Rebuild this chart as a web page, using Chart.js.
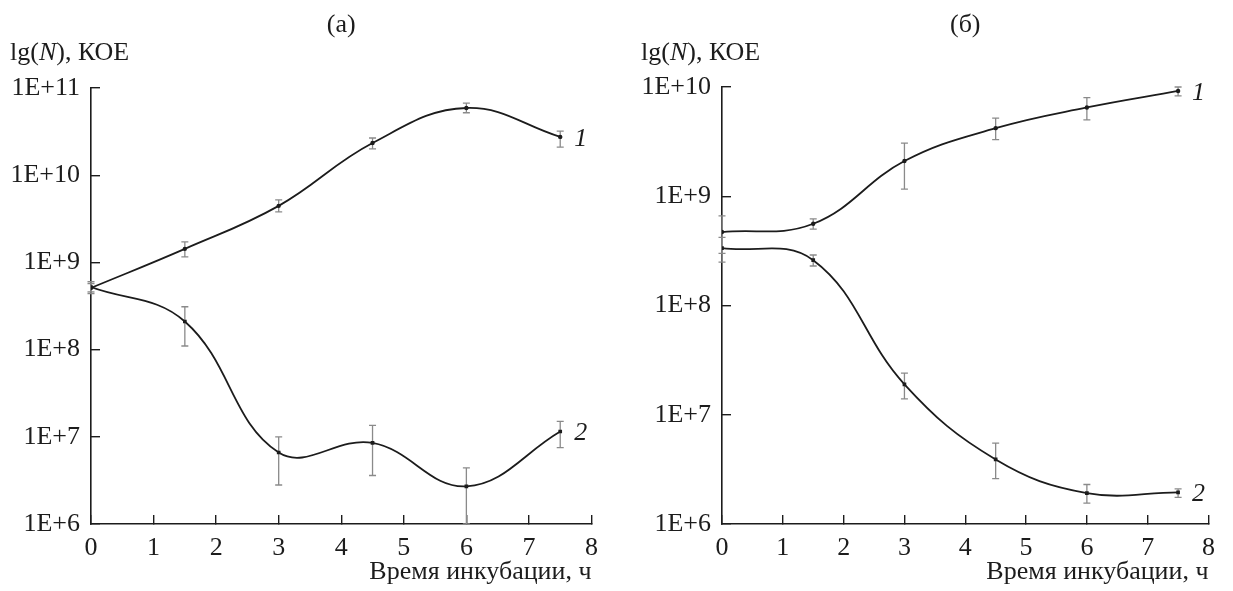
<!DOCTYPE html>
<html>
<head>
<meta charset="utf-8">
<script src="https://cdn.jsdelivr.net/npm/chart.js@4.4.0/dist/chart.umd.min.js"></script>
<style>
  body { margin: 0; background: #fff; }
  canvas { position: absolute; top: 0; }
</style>
</head>
<body>
<canvas id="chartA" width="616" height="591" style="left:0"></canvas>
<canvas id="chartB" width="617" height="591" style="left:616px"></canvas>
<script>
// time points, h
const times = [0, 1.5, 3, 4.5, 6, 7.5];
const xTicks = [0, 1, 2, 3, 4, 5, 6, 7, 8];
const yTicksA = [1e6, 1e7, 1e8, 1e9, 1e10, 1e11];
const yTicksB = [1e6, 1e7, 1e8, 1e9, 1e10];
const seriesNames = ['1', '2'];

// panel (a)
const a1 = [5.1e8, 1.43e9, 4.45e9, 2.34e10, 5.9e10, 2.75e10];
const a1Low = [4.6e8, 1.16e9, 3.8e9, 2.0e10, 5.2e10, 2.1e10];
const a1High = [5.7e8, 1.72e9, 5.2e9, 2.67e10, 6.7e10, 3.2e10];
const a2 = [5.2e8, 2.1e8, 6.6e6, 8.5e6, 2.7e6, 1.15e7];
const a2Low = [4.4e8, 1.1e8, 2.8e6, 3.6e6, 1.0e6, 7.5e6];
const a2High = [6.0e8, 3.1e8, 1.0e7, 1.35e7, 4.4e6, 1.5e7];

// panel (б)
const b1 = [4.7e8, 5.6e8, 2.1e9, 4.2e9, 6.5e9, 9.2e9];
const b1Low = [3.0e8, 5.0e8, 1.16e9, 3.3e9, 5.0e9, 8.3e9];
const b1High = [6.6e8, 6.2e8, 3.07e9, 5.2e9, 8.0e9, 1.0e10];
const b2 = [3.35e8, 2.6e8, 1.9e7, 3.9e6, 1.92e6, 1.95e6];
const b2Low = [2.5e8, 2.3e8, 1.4e7, 2.6e6, 1.55e6, 1.75e6];
const b2High = [4.2e8, 2.9e8, 2.4e7, 5.5e6, 2.3e6, 2.1e6];

const FONT = 'Liberation Serif';
const INK = '#1c1c1c';

// vertical error bars, drawn under the lines
const errorBars = {
  id: 'errorBars',
  beforeDatasetsDraw(chart) {
    const ctx = chart.ctx, xs = chart.scales.x, ys = chart.scales.y;
    ctx.save();
    ctx.strokeStyle = '#8a8a8a';
    ctx.lineWidth = 1.3;
    chart.data.datasets.forEach(ds => {
      ds.data.forEach((p, i) => {
        const px = xs.getPixelForValue(p.x);
        const lo = ys.getPixelForValue(ds.errLow[i]);
        const hi = ys.getPixelForValue(ds.errHigh[i]);
        ctx.beginPath();
        ctx.moveTo(px, lo); ctx.lineTo(px, hi);
        ctx.moveTo(px - 3.5, lo); ctx.lineTo(px + 3.5, lo);
        ctx.moveTo(px - 3.5, hi); ctx.lineTo(px + 3.5, hi);
        ctx.stroke();
      });
    });
    ctx.restore();
  }
};

// panel letter, y unit caption and curve numbers
const captions = {
  id: 'captions',
  afterDraw(chart, args, opts) {
    const ctx = chart.ctx, area = chart.chartArea;
    const xs = chart.scales.x, ys = chart.scales.y;
    ctx.save();
    ctx.fillStyle = INK;
    ctx.textBaseline = 'middle';

    ctx.font = `26px "${FONT}"`;
    ctx.textAlign = 'center';
    ctx.fillText(opts.panel, (area.left + area.right) / 2, 25);

    // lg(N), КОЕ with italic N
    ctx.textAlign = 'left';
    let x = area.left - 81;
    const parts = [['lg(', false], ['N', true], ['), КОЕ', false]];
    parts.forEach(([t, it]) => {
      ctx.font = `${it ? 'italic ' : ''}26px "${FONT}"`;
      ctx.fillText(t, x, 53);
      x += ctx.measureText(t).width;
    });

    ctx.font = `italic 26px "${FONT}"`;
    chart.data.datasets.forEach((ds, i) => {
      const last = ds.data[ds.data.length - 1];
      ctx.fillText(seriesNames[i], xs.getPixelForValue(last.x) + 14, ys.getPixelForValue(last.y) + 2);
    });
    ctx.restore();
  }
};

function points(values) {
  return times.map((t, i) => ({ x: t, y: values[i] }));
}

function makePanel(id, panel, yTicks, yMax, axisLeft, top, right, s1, s1Low, s1High, s2, s2Low, s2High) {
  new Chart(document.getElementById(id), {
    type: 'line',
    data: {
      datasets: [
        {
          data: points(s1), errLow: s1Low, errHigh: s1High,
          borderColor: INK, borderWidth: 1.8, tension: 0.4,
          pointStyle: 'circle', pointRadius: 2.2, pointBackgroundColor: INK, pointBorderWidth: 0
        },
        {
          data: points(s2), errLow: s2Low, errHigh: s2High,
          borderColor: INK, borderWidth: 1.8, tension: 0.4,
          pointStyle: 'rect', pointRadius: 2.6, pointBackgroundColor: INK, pointBorderWidth: 0
        }
      ]
    },
    options: {
      responsive: false,
      animation: false,
      layout: { padding: { top: top, right: right, left: 0, bottom: 0 } },
      plugins: {
        legend: { display: false },
        tooltip: { enabled: false },
        captions: { panel: panel }
      },
      scales: {
        x: {
          type: 'linear', min: 0, max: 8,
          afterBuildTicks: s => { s.ticks = xTicks.map(v => ({ value: v })); },
          afterFit: s => { s.height = 591 - 524; },
          ticks: { color: INK, padding: 18, maxRotation: 0, font: { family: FONT, size: 26 } },
          grid: { drawOnChartArea: false, tickLength: -9, color: INK, lineWidth: 1.4 },
          border: { color: INK, width: 1.6 },
          title: {
            display: true, text: 'Время инкубации, ч', align: 'end', color: INK,
            font: { family: FONT, size: 26 }, padding: { top: 0, bottom: 3 }
          }
        },
        y: {
          type: 'logarithmic', min: 1e6, max: yMax,
          afterBuildTicks: s => { s.ticks = yTicks.map(v => ({ value: v })); },
          afterFit: s => { s.width = axisLeft; },
          ticks: {
            color: INK, padding: 20, font: { family: FONT, size: 26 },
            callback: v => '1E+' + Math.round(Math.log10(v))
          },
          grid: { drawOnChartArea: false, tickLength: -9, color: INK, lineWidth: 1.4 },
          border: { color: INK, width: 1.6 }
        }
      }
    },
    plugins: [errorBars, captions]
  });
}

makePanel('chartA', '(a)', yTicksA, 1e11, 91, 88, 21, a1, a1Low, a1High, a2, a2Low, a2High);
makePanel('chartB', '(б)', yTicksB, 1e10, 106, 87, 7, b1, b1Low, b1High, b2, b2Low, b2High);
</script>
</body>
</html>
